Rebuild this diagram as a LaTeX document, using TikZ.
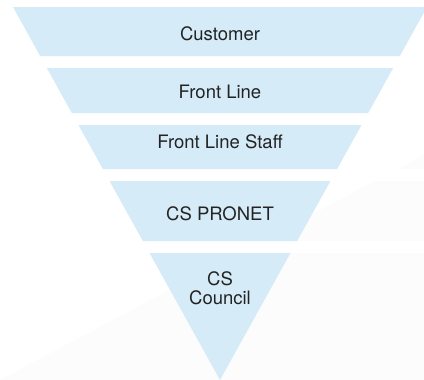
\documentclass[tikz,border=0pt]{standalone}
\usepackage{fontspec}
\setmainfont{TeX Gyre Heros}
\usepackage{xcolor}
\usepackage{tikz}
\usetikzlibrary{positioning}
\usetikzlibrary{calc}

\definecolor{bandblue}{RGB}{213,235,248}
\definecolor{shadegray}{RGB}{252,252,252}
\definecolor{textgray}{RGB}{35,35,35}

\tikzset{
  band/.style={fill=bandblue, draw=none},
  bandtext/.style={font=\fontsize{18.5}{19}\selectfont, text=textgray, inner sep=0pt},
}

\begin{document}
\begin{tikzpicture}[x=1pt, y=-1pt]

 \useasboundingbox (0,0) rectangle (424,380);
 \fill[white] (0,0) rectangle (424,380);

 % faint backdrop in the lower corner
 \fill[shadegray] (0,380) -- (424,155) -- (424,380) -- cycle;
 \foreach \a/\b in {56/68, 113/125, 169/181, 241/253}
   \fill[white] (0,\a) rectangle (424,\b);

 % funnel bands, sides follow one line down to the tip at (220,380)
 \foreach \t/\b/\n in {7/56/b1, 68/113/b2, 125/169/b3, 181/241/b4, 253/380/b5} {
   \pgfmathsetmacro{\wt}{(380-\t)*0.555}
   \pgfmathsetmacro{\wb}{(380-\b)*0.555}
   \fill[band] (220-\wt,\t) -- (220+\wt,\t) -- (220+\wb,\b) -- (220-\wb,\b) -- cycle;
   \coordinate (\n) at (220,\t);
 }

 % labels
 \node[bandtext, anchor=base] (customer) at (220,40) {Customer};
 \node[bandtext, anchor=base] (frontline) at (220,98) {Front Line};
 \node[bandtext, anchor=base] (staff) at (220,148) {Front Line Staff};
 \node[bandtext, anchor=base] (pronet) at (220,220) {CS PRONET};
 \node[bandtext, align=center] (council) at (220,288.5) {CS\\Council};

\end{tikzpicture}
\end{document}
